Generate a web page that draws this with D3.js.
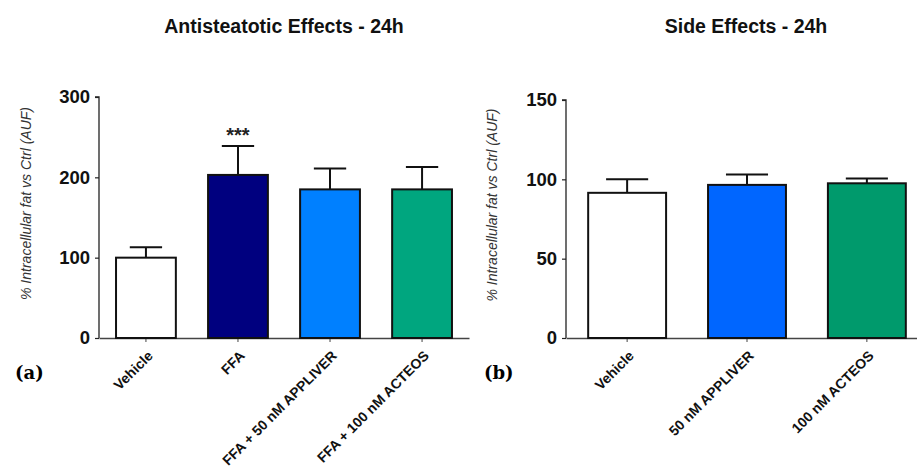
<!DOCTYPE html>
<html>
<head>
<meta charset="utf-8">
<script src="https://cdn.jsdelivr.net/npm/d3@7"></script>
<style>
	body { margin: 0; background: #fff; }
	svg { display: block; font-family: "Liberation Sans", Arial, sans-serif; }
</style>
</head>
<body>
<svg></svg>
<script>
// panel (a)
var catsA = ["Vehicle", "FFA", "FFA + 50 nM APPLIVER", "FFA + 100 nM ACTEOS"];
var meansA = [100, 203, 185, 185];
var errsA = [113, 239, 211, 213];
var colorsA = ["#ffffff", "#00007f", "#0080ff", "#00a67f"];
var ticksA = [0, 100, 200, 300];

// panel (b)
var catsB = ["Vehicle", "50 nM APPLIVER", "100 nM ACTEOS"];
var meansB = [91.5, 96.5, 97.5];
var errsB = [100, 103, 100.5];
var colorsB = ["#ffffff", "#0066ff", "#009a6c"];
var ticksB = [0, 50, 100, 150];

var svg = d3.select("svg").attr("width", 917).attr("height", 475);
var sans = "Liberation Sans, Arial, sans-serif";

function panel(o) {
	let g = svg.append("g");
	let x = d3.scaleBand().domain(o.cats).range([o.x0, o.x1]).paddingInner(0.35).paddingOuter(0.185);
	let y = d3.scaleLinear().domain([0, o.max]).range([o.y0, o.y1]);

	g.append("text")
		.attr("x", o.titleX).attr("y", 33)
		.attr("text-anchor", "middle")
		.attr("font-weight", "bold").attr("font-size", 19.5)
		.attr("fill", "#111")
		.text(o.title);

	// y axis
	let ya = g.append("g").attr("transform", `translate(${o.x0},0)`)
		.call(d3.axisLeft(y).tickValues(o.ticks).tickSize(4).tickPadding(5));
	ya.select(".domain").attr("stroke", "#222").attr("stroke-width", 1.3).attr("d", `M-4,${o.y1}H0V${o.y0}`);
	ya.selectAll(".tick line").attr("stroke", "#222").attr("stroke-width", 1.2);
	ya.selectAll(".tick text").attr("font-size", 18.5).attr("font-weight", "bold").attr("fill", "#111")
		.attr("font-family", sans);

	// x axis
	let xa = g.append("g").attr("transform", `translate(0,${o.y0})`)
		.call(d3.axisBottom(x).tickSize(4).tickSizeOuter(0).tickPadding(2));
	xa.select(".domain").attr("stroke", "#444").attr("stroke-width", 1.5);
	xa.selectAll(".tick line").attr("stroke", "#444");
	xa.selectAll(".tick text")
		.attr("font-size", 14).attr("font-weight", "bold").attr("fill", "#111")
		.attr("font-family", sans)
		.attr("text-anchor", "end")
		.attr("dy", "0.35em")
		.attr("transform", "translate(0,11) rotate(-45)");

	// y label
	g.append("text")
		.attr("transform", `translate(${o.labelX},${(o.y0 + o.y1) / 2 - 14}) rotate(-90)`)
		.attr("text-anchor", "middle")
		.attr("font-style", "italic").attr("font-size", 14).attr("fill", "#333")
		.text("% Intracellular fat vs Ctrl (AUF)");

	// error bars
	let bw = x.bandwidth();
	o.cats.forEach((c, i) => {
		let cx = x(c) + bw / 2;
		g.append("line").attr("x1", cx).attr("x2", cx).attr("y1", y(o.means[i])).attr("y2", y(o.errs[i]))
			.attr("stroke", "#111").attr("stroke-width", 2);
		g.append("line").attr("x1", cx - bw * 0.27).attr("x2", cx + bw * 0.27)
			.attr("y1", y(o.errs[i])).attr("y2", y(o.errs[i]))
			.attr("stroke", "#111").attr("stroke-width", 2);
	});

	// bars
	g.selectAll("rect.bar").data(o.cats).enter().append("rect")
		.attr("class", "bar")
		.attr("x", (d) => x(d))
		.attr("y", (d, i) => y(o.means[i]))
		.attr("width", bw)
		.attr("height", (d, i) => y(0) - y(o.means[i]))
		.attr("fill", (d, i) => o.colors[i])
		.attr("stroke", "#111").attr("stroke-width", 2);

	if (o.star) {
		let i = o.cats.indexOf(o.star);
		g.append("text")
			.attr("x", x(o.star) + bw / 2).attr("y", y(o.errs[i]) - 4)
			.attr("text-anchor", "middle").attr("font-size", 20).attr("font-weight", "bold")
			.attr("fill", "#222")
			.text("***");
	}

	g.append("text")
		.attr("x", o.tagX).attr("y", 379)
		.attr("font-family", "DejaVu Serif, serif").attr("font-weight", "bold").attr("font-size", 18)
		.text(o.tag);
}

panel({
	cats: catsA, means: meansA, errs: errsA, colors: colorsA, ticks: ticksA, max: 300,
	x0: 99, x1: 469, y0: 338, y1: 97, title: "Antisteatotic Effects - 24h", titleX: 284,
	labelX: 31, tag: "(a)", tagX: 15, star: "FFA",
});
panel({
	cats: catsB, means: meansB, errs: errsB, colors: colorsB, ticks: ticksB, max: 150,
	x0: 566, x1: 928, y0: 338, y1: 100, title: "Side Effects - 24h", titleX: 746,
	labelX: 497, tag: "(b)", tagX: 484,
});
</script>
</body>
</html>
